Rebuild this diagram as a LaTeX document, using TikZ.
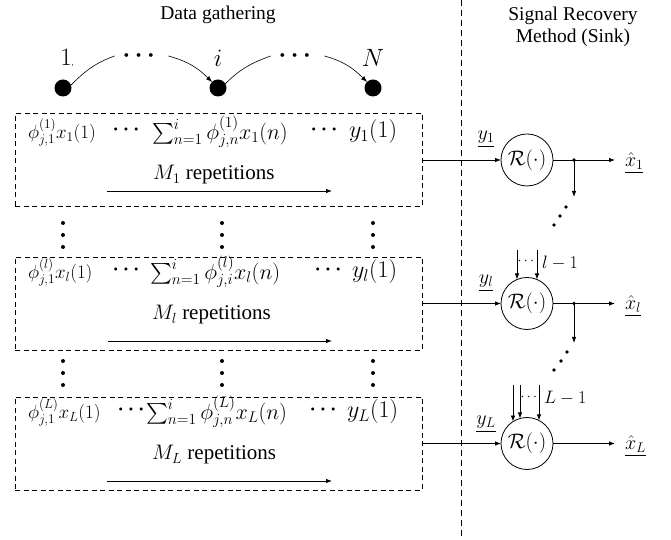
\RequirePackage{fix-cm}
\documentclass[tikz,border=0pt]{standalone}
\usepackage{amsmath,bm}
\usepackage[no-math]{fontspec}
\setmainfont{Liberation Serif}
\usetikzlibrary{arrows.meta}
\newcommand{\fs}[1]{\fontsize{#1}{#1}\selectfont}
\tikzset{
  every node/.style={inner sep=0pt, outer sep=0pt},
  sensor/.style={circle, fill=black, minimum size=17pt},
  gbox/.style={draw, dash pattern=on 5pt off 3.5pt, line width=0.8pt, minimum width=407pt, minimum height=93pt},
  rec/.style={circle, draw, line width=0.8pt, minimum size=52pt, font=\fs{21}},
  arr/.style={-{Latex[length=6pt,width=4.5pt]}, line width=0.8pt},
  carr/.style={-{Latex[length=6pt,width=4.5pt]}, line width=0.6pt},
  lbl/.style={font=\fontsize{19.5}{22}\selectfont},
  phi/.style={anchor=west, font=\fs{19}},
  sumt/.style={anchor=west, font=\fs{22}},
  yout/.style={anchor=west, font=\fs{24}},
  bdots/.style={font=\fs{20}},
  rep/.style={anchor=west, font=\fs{21}},
  ylab/.style={font=\fs{20}},
  xlab/.style={anchor=west, font=\fs{20}},
  sdots/.style={font=\fs{14}},
  cnt/.style={anchor=west, font=\fs{18}},
}
\begin{document}
\begin{tikzpicture}[x=1pt,y=1pt]
\useasboundingbox (0,0) rectangle (671,540);

% headers
\node[lbl] (title) at (218,525) {Data gathering};
\node[lbl, align=center] (sinkt) at (573,513) {Signal Recovery\\Method (Sink)};
\coordinate (vt) at (461,540);
\coordinate (vb) at (461,0);
\draw[dash pattern=on 6pt off 4pt, line width=0.8pt] (vt) -- (vb);

% sensor chain
\node[sensor] (n1) at (63,452) {};
\node[sensor] (ni) at (218,452) {};
\node[sensor] (nN) at (373,452) {};
\node[font=\fs{25}] (l1) at (67,482) {$1${\fs{8},}};
\node[font=\fs{25}] (li) at (218,482) {$i$};
\node[font=\fs{25}] (lN) at (373,482) {$N$};
\node[font=\fs{24}] (t1) at (141,484) {$\boldsymbol{\cdots}$};
\node[font=\fs{24}] (t2) at (297,484) {$\boldsymbol{\cdots}$};
\draw[line width=0.6pt] (n1.20) to[out=45,in=200] ([xshift=-8pt]t1.west);
\draw[carr] ([xshift=9pt]t1.east) to[out=-15,in=135] (ni.135);
\draw[line width=0.6pt] (ni.30) to[out=45,in=200] ([xshift=-8pt]t2.west);
\draw[carr] ([xshift=9pt]t2.east) to[out=-15,in=135] (nN.135);

% box 1
\node[gbox] (B1) at (218.5,380) {};
\node[phi] (p1) at (28,408) {$\phi^{(1)}_{j,1}x_1(1)$};
\node[bdots] (a1) at (128,410) {$\boldsymbol{\cdots}$};
\node[sumt] (s1) at (152,408) {$\sum_{n=1}^{i}\phi^{(1)}_{j,n}x_1(n)$};
\node[bdots] (b1) at (326,410) {$\boldsymbol{\cdots}$};
\node[yout] (y1) at (349,408) {$y_1(1)$};
\node[rep] (m1) at (153,365) {$M_1$ repetitions};
\coordinate (r1s) at (107,349);
\coordinate (r1e) at (332,349);
\draw[arr] (r1s) -- (r1e);

% vertical dots 1
\foreach \x in {63,222,373}{\foreach \y in {317,305,293}{\fill (\x,\y) circle (2pt);}}

% box 2
\node[gbox] (B2) at (218.5,236.5) {};
\node[phi] (p2) at (28,268) {$\phi^{(l)}_{j,1}x_l(1)$};
\node[bdots] (a2) at (128,270) {$\boldsymbol{\cdots}$};
\node[sumt] (s2) at (150,268) {$\sum_{n=1}^{i}\phi^{(l)}_{j,i}x_l(n)$};
\node[bdots] (b2) at (330,270) {$\boldsymbol{\cdots}$};
\node[yout] (y2) at (352,268) {$y_l(1)$};
\node[rep] (m2) at (152,225) {$M_l$ repetitions};
\coordinate (r2s) at (108,199);
\coordinate (r2e) at (332,199);
\draw[arr] (r2s) -- (r2e);

% vertical dots 2
\foreach \x in {63,222,373}{\foreach \y in {179,167,155}{\fill (\x,\y) circle (2pt);}}

% box 3
\node[gbox] (B3) at (218.5,96.5) {};
\node[phi] (p3) at (28,128) {$\phi^{(L)}_{j,1}x_L(1)$};
\node[bdots] (a3) at (133,130) {$\boldsymbol{\cdots}$};
\node[sumt] (s3) at (146,128) {$\sum_{n=1}^{i}\phi^{(L)}_{j,n}x_L(n)$};
\node[bdots] (b3) at (325,130) {$\boldsymbol{\cdots}$};
\node[yout] (y3) at (347,128) {$y_L(1)$};
\node[rep] (m3) at (152,85) {$M_L$ repetitions};
\coordinate (r3s) at (107,59);
\coordinate (r3e) at (332,59);
\draw[arr] (r3s) -- (r3e);

% recovery 1
\node[rec] (R1) at (527,380) {$\mathcal{R}(\cdot)$};
\node[ylab] (Y1) at (486,401) {$\underline{y_1}$};
\draw[arr] (B1.east) -- (R1.west);
\coordinate (j1) at (574,380);
\coordinate (o1) at (615,380);
\draw[arr] (R1.east) -- (o1);
\fill (j1) circle (1.8pt);
\node[xlab] (X1) at (625,377) {$\underline{\hat{x}_1}$};
\coordinate (d1e) at (574,343);
\draw[arr] (j1) -- (d1e);
\fill (566,333) circle (1.8pt) (560,324) circle (1.8pt) (554,315) circle (1.8pt);

% recovery l
\node[rec] (R2) at (527,236.5) {$\mathcal{R}(\cdot)$};
\node[ylab] (Y2) at (486,257) {$\underline{y_l}$};
\draw[arr] (B2.east) -- (R2.west);
\coordinate (j2) at (574,236.5);
\coordinate (o2) at (615,236.5);
\draw[arr] (R2.east) -- (o2);
\fill (j2) circle (1.8pt);
\node[xlab] (X2) at (625,234) {$\underline{\hat{x}_l}$};
\coordinate (d2e) at (574,197);
\draw[arr] (j2) -- (d2e);
\fill (567,188) circle (1.8pt) (561,179) circle (1.8pt) (554,170) circle (1.8pt);
\coordinate (q1s) at (517,290);
\coordinate (q1e) at (517,260.5);
\coordinate (q2s) at (537,290);
\coordinate (q2e) at (537,260.5);
\draw[arr] (q1s) -- (q1e);
\draw[arr] (q2s) -- (q2e);
\node[sdots] (qd) at (527,279) {$\cdots$};
\node[cnt] (ql) at (542,277) {$l-1$};

% recovery L
\node[rec] (R3) at (527,96.5) {$\mathcal{R}(\cdot)$};
\node[ylab] (Y3) at (486,116) {$\underline{y_L}$};
\draw[arr] (B3.east) -- (R3.west);
\coordinate (o3) at (615,96.5);
\draw[arr] (R3.east) -- (o3);
\node[xlab] (X3) at (625,94) {$\underline{\hat{x}_L}$};
\coordinate (w1s) at (513,155);
\coordinate (w1e) at (513,118.4);
\coordinate (w2s) at (520,155);
\coordinate (w2e) at (520,121.5);
\coordinate (w3s) at (539,155);
\coordinate (w3e) at (539,119.6);
\draw[arr] (w1s) -- (w1e);
\draw[arr] (w2s) -- (w2e);
\draw[arr] (w3s) -- (w3e);
\node[sdots] (wd) at (530,143) {$\cdots$};
\node[cnt] (wl) at (544,142) {$L-1$};
\end{tikzpicture}
\end{document}
